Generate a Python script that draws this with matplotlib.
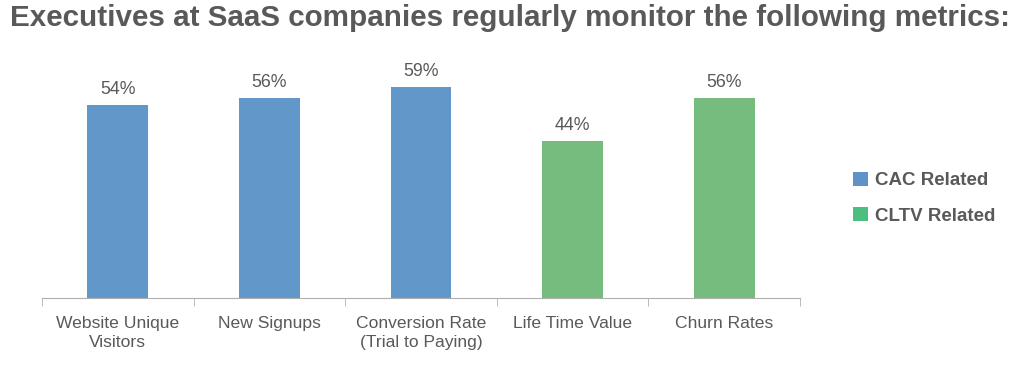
import numpy as np
import matplotlib.pyplot as plt
from matplotlib.patches import Patch

categories = ["Website Unique\nVisitors", "New Signups", "Conversion Rate\n(Trial to Paying)",
              "Life Time Value", "Churn Rates"]
values = [54, 56, 59, 44, 56]
groups = ["CAC", "CAC", "CAC", "CLTV", "CLTV"]

blue = "#6197C9"
green = "#77BC7F"
text_gray = "#595959"

plt.rcParams['font.family'] = ['Liberation Sans', 'DejaVu Sans']

fig = plt.figure(figsize=(10.24, 3.74), dpi=100)
ax = fig.add_axes([42 / 1024, 76 / 374, 758 / 1024, 250 / 374])

x = np.arange(len(categories))
colors = [blue if g == "CAC" else green for g in groups]
bars = ax.bar(x, values, width=0.4, color=colors)

# value labels above bars
for b, v in zip(bars, values):
    ax.text(b.get_x() + b.get_width() / 2, v + 2.0, "%d%%" % v, ha='center', va='bottom',
            fontsize=12.8, color=text_gray)

ax.set_xlim(-0.5, len(categories) - 0.5)
ax.set_ylim(0, 70)
ax.set_yticks([])
for s in ['top', 'right', 'left']:
    ax.spines[s].set_visible(False)
ax.spines['bottom'].set_color('#b0b0b0')

ax.set_xticks(x)
ax.set_xticklabels(categories, fontsize=12.6, color=text_gray, linespacing=1.3)
ax.tick_params(axis='x', which='major', length=0, pad=13)
ax.set_xticks(np.arange(-0.5, len(categories)), minor=True)
ax.tick_params(axis='x', which='minor', length=6, color='#b0b0b0')

fig.text(0.498, 0.952, "Executives at SaaS companies regularly monitor the following metrics:",
         ha='center', va='center', fontsize=21.3, fontweight='bold', color=text_gray)

handles = [Patch(facecolor="#5E92C8", label="CAC Related"),
           Patch(facecolor="#4DBD80", label="CLTV Related")]
fig.legend(handles=handles, loc='center left', bbox_to_anchor=(0.833, 0.47), frameon=False,
           borderpad=0, borderaxespad=0,
           handlelength=0.8, handleheight=0.8, handletextpad=0.4, labelspacing=0.95,
           prop={'size': 13.5, 'weight': 'bold'}, labelcolor=text_gray)

fig.savefig("out.png", dpi=100)
